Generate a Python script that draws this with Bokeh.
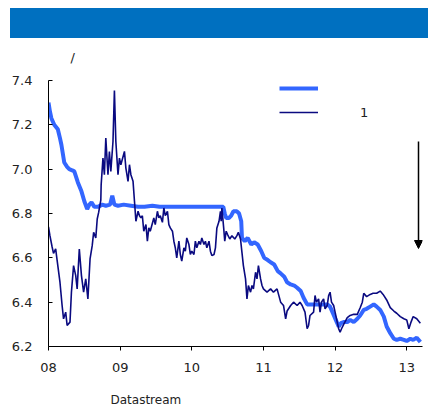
from bokeh.plotting import figure
from bokeh.models import (Range1d, FixedTicker, Arrow, NormalHead, Legend,
                          LegendItem, Title, Div)
from bokeh.layouts import column
from bokeh.embed import file_html
from bokeh.resources import INLINE

# ---- data ----
spot_t = [2008.00, 2008.02, 2008.04, 2008.08, 2008.13, 2008.16, 2008.18, 2008.22,
          2008.26, 2008.29, 2008.33, 2008.36, 2008.41, 2008.46, 2008.50, 2008.54,
          2008.57, 2008.60, 2008.64, 2008.69, 2008.75, 2008.80, 2008.86, 2008.89,
          2008.92, 2008.97, 2009.05, 2009.15, 2009.25, 2009.34, 2009.45, 2009.55,
          2009.70, 2009.85, 2010.00, 2010.15, 2010.30, 2010.44, 2010.46, 2010.48,
          2010.52, 2010.55, 2010.58, 2010.63, 2010.66, 2010.69, 2010.70, 2010.74,
          2010.78, 2010.83, 2010.87, 2010.92, 2010.97, 2011.01, 2011.06, 2011.10,
          2011.15, 2011.20, 2011.24, 2011.29, 2011.33, 2011.38, 2011.43, 2011.47,
          2011.52, 2011.56, 2011.61, 2011.70, 2011.79, 2011.89, 2011.93, 2011.97,
          2012.01, 2012.05, 2012.08, 2012.12, 2012.17, 2012.21, 2012.26, 2012.31,
          2012.35, 2012.40, 2012.44, 2012.49, 2012.54, 2012.58, 2012.63, 2012.68,
          2012.72, 2012.77, 2012.82, 2012.86, 2012.91, 2012.96, 2013.00, 2013.05,
          2013.09, 2013.14, 2013.19]
spot_v = [7.30, 7.26, 7.23, 7.20, 7.18, 7.14, 7.11, 7.03,
          7.01, 7.00, 6.995, 6.99, 6.94, 6.90, 6.855, 6.82,
          6.84, 6.85, 6.83, 6.83, 6.84, 6.835, 6.84, 6.88,
          6.84, 6.835, 6.84, 6.835, 6.83, 6.83, 6.835, 6.83,
          6.83, 6.83, 6.83, 6.83, 6.83, 6.83, 6.80, 6.78,
          6.78, 6.79, 6.81, 6.81, 6.80, 6.765, 6.69, 6.675,
          6.69, 6.66, 6.67, 6.66, 6.63, 6.60, 6.59, 6.58,
          6.57, 6.54, 6.53, 6.515, 6.49, 6.48, 6.475, 6.465,
          6.45, 6.42, 6.39, 6.39, 6.39, 6.39, 6.38, 6.35,
          6.32, 6.29, 6.305, 6.31, 6.31, 6.32, 6.31, 6.325,
          6.34, 6.365, 6.37, 6.38, 6.39, 6.38, 6.365, 6.335,
          6.29, 6.26, 6.235, 6.23, 6.235, 6.23, 6.225, 6.235,
          6.23, 6.24, 6.22]

ndf_t = [2008.00, 2008.02, 2008.05, 2008.07, 2008.10, 2008.12, 2008.16, 2008.19,
         2008.21, 2008.24, 2008.26, 2008.30, 2008.32, 2008.35, 2008.38, 2008.40,
         2008.43, 2008.46, 2008.49, 2008.52, 2008.55, 2008.58, 2008.61, 2008.63,
         2008.66, 2008.68, 2008.70, 2008.73, 2008.735, 2008.76, 2008.78, 2008.80,
         2008.83, 2008.85, 2008.87, 2008.90, 2008.92, 2008.94, 2008.97, 2008.99,
         2009.01, 2009.06, 2009.08, 2009.11, 2009.13, 2009.15, 2009.18, 2009.20,
         2009.22, 2009.25, 2009.27, 2009.29, 2009.31, 2009.33, 2009.36, 2009.38,
         2009.40, 2009.42, 2009.47, 2009.49, 2009.52, 2009.54, 2009.56, 2009.59,
         2009.61, 2009.63, 2009.66, 2009.68, 2009.70, 2009.73, 2009.75, 2009.77,
         2009.79, 2009.82, 2009.84, 2009.86, 2009.89, 2009.91, 2009.93, 2009.96,
         2009.98, 2010.00, 2010.03, 2010.05, 2010.07, 2010.10, 2010.12, 2010.14,
         2010.17, 2010.19, 2010.21, 2010.24, 2010.26, 2010.28, 2010.31, 2010.33,
         2010.35, 2010.38, 2010.40, 2010.41, 2010.42, 2010.445, 2010.46, 2010.48,
         2010.50, 2010.53, 2010.56, 2010.60, 2010.63, 2010.65, 2010.68, 2010.70,
         2010.72, 2010.75, 2010.77, 2010.79, 2010.82, 2010.84, 2010.86, 2010.89,
         2010.91, 2010.93, 2010.96, 2010.98, 2011.00, 2011.05, 2011.10, 2011.14,
         2011.19, 2011.24, 2011.28, 2011.31, 2011.33, 2011.38, 2011.42, 2011.47,
         2011.51, 2011.54, 2011.58, 2011.61, 2011.63, 2011.65, 2011.70, 2011.72,
         2011.74, 2011.77, 2011.79, 2011.81, 2011.84, 2011.86, 2011.89, 2011.91,
         2011.93, 2011.95, 2011.98, 2012.00, 2012.03, 2012.05, 2012.07, 2012.09,
         2012.12, 2012.17, 2012.21, 2012.26, 2012.31, 2012.35, 2012.38, 2012.40,
         2012.44, 2012.49, 2012.53, 2012.58, 2012.63, 2012.67, 2012.72, 2012.77,
         2012.82, 2012.86, 2012.91, 2012.96, 2013.00, 2013.03, 2013.06, 2013.09,
         2013.14, 2013.19]
ndf_v = [6.74, 6.70, 6.65, 6.62, 6.64, 6.59, 6.49, 6.385,
         6.325, 6.355, 6.295, 6.31, 6.445, 6.565, 6.52, 6.46,
         6.64, 6.52, 6.445, 6.505, 6.415, 6.595, 6.655, 6.715,
         6.69, 6.775, 6.805, 6.86, 6.93, 7.05, 6.975, 7.14,
         6.975, 7.08, 6.99, 7.125, 7.355, 7.125, 6.975, 7.05,
         7.02, 7.08, 7.005, 6.945, 7.02, 6.975, 6.945, 6.855,
         6.765, 6.81, 6.79, 6.78, 6.79, 6.72, 6.75, 6.675,
         6.735, 6.72, 6.78, 6.75, 6.81, 6.78, 6.79, 6.76,
         6.825, 6.79, 6.81, 6.75, 6.735, 6.72, 6.675, 6.645,
         6.60, 6.675, 6.615, 6.585, 6.645, 6.63, 6.69, 6.66,
         6.615, 6.63, 6.615, 6.675, 6.645, 6.675, 6.66, 6.69,
         6.66, 6.675, 6.645, 6.675, 6.63, 6.61, 6.615, 6.645,
         6.735, 6.765, 6.81, 6.765, 6.825, 6.735, 6.675, 6.72,
         6.705, 6.685, 6.70, 6.685, 6.70, 6.715, 6.685, 6.625,
         6.565, 6.505, 6.415, 6.475, 6.445, 6.475, 6.46, 6.535,
         6.505, 6.565, 6.505, 6.475, 6.46, 6.445, 6.46, 6.445,
         6.46, 6.40, 6.385, 6.325, 6.36, 6.385, 6.40, 6.385,
         6.40, 6.385, 6.355, 6.28, 6.295, 6.34, 6.355, 6.43,
         6.40, 6.415, 6.355, 6.40, 6.415, 6.37, 6.385, 6.43,
         6.445, 6.40, 6.385, 6.355, 6.31, 6.28, 6.265, 6.28,
         6.30, 6.33, 6.34, 6.345, 6.345, 6.375, 6.40, 6.44,
         6.425, 6.435, 6.44, 6.44, 6.45, 6.435, 6.41, 6.375,
         6.36, 6.35, 6.335, 6.325, 6.32, 6.28, 6.31, 6.335,
         6.325, 6.305]

x_ticks = [2008, 2009, 2010, 2011, 2012, 2013]
x_labels = ["08", "09", "10", "11", "12", "13"]
y_ticks = [6.2, 6.4, 6.6, 6.8, 7.0, 7.2, 7.4]
y_labels = ["6.2", "6.4", "6.6", "6.8", "7.0", "7.2", "7.4"]

FONT = "DejaVu Sans"

# blue header band; the figure below is pulled up to overlap it
header = Div(text="", width=418, height=30, margin=(8, 0, -38, 10),
             styles={"background-color": "#0070C0"})

p = figure(width=438, height=407, output_backend="svg", toolbar_location=None,
           x_range=Range1d(2008, 2013.22), y_range=Range1d(6.2, 7.4),
           min_border_left=48, min_border_right=16, min_border_top=80,
           min_border_bottom=59)
p.border_fill_color = None
p.background_fill_color = "white"
p.title = Title(text="/", align="left", offset=22, standoff=31,
                text_font=FONT, text_font_size="13px",
                text_font_style="normal", text_color="#222222")
p.outline_line_color = None
p.xgrid.visible = False
p.ygrid.visible = False

r_spot = p.line(spot_t, spot_v, line_color="#3366FF", line_width=4)
r_ndf = p.line(ndf_t, ndf_v, line_color="#0A0A80", line_width=1.6)

# axes
p.xaxis.ticker = FixedTicker(ticks=x_ticks)
p.xaxis.major_label_overrides = {t: l for t, l in zip(x_ticks, x_labels)}
p.xaxis.major_tick_in = 0
p.xaxis.major_tick_out = 4
p.xaxis.minor_tick_line_color = None
p.xaxis.major_label_standoff = 12

p.yaxis.ticker = FixedTicker(ticks=y_ticks)
p.yaxis.major_label_overrides = {t: l for t, l in zip(y_ticks, y_labels)}
p.yaxis.major_tick_in = 4
p.yaxis.major_tick_out = 0
p.yaxis.minor_tick_line_color = None
p.yaxis.major_label_standoff = 16

for ax in (p.xaxis, p.yaxis):
    ax.axis_line_color = "black"
    ax.major_tick_line_color = "black"
    ax.major_label_text_font = FONT
    ax.major_label_text_font_size = "13px"
    ax.major_label_text_color = "#222222"

# spacer + source line below the x axis
p.add_layout(Title(text=" ", align="left", offset=0, standoff=0,
                   text_font=FONT, text_font_size="11px"), "below")
p.add_layout(Title(text="Datastream", align="left", offset=62, standoff=2,
                   text_font=FONT, text_font_size="12px",
                   text_font_style="normal", text_color="#222222"), "below")

# arrow
p.add_layout(Arrow(end=NormalHead(size=8, fill_color="black", line_color="black"),
                   x_start=370, y_start=205, x_end=370, y_end=98,
                   start_units="screen", end_units="screen",
                   line_color="black", line_width=1.5))

# legend
legend = Legend(items=[LegendItem(label=" ", renderers=[r_spot]),
                       LegendItem(label="1", renderers=[r_ndf])],
                location=(231, 224), glyph_width=39, glyph_height=20,
                label_height=20, spacing=4, padding=0, margin=0,
                label_standoff=42, border_line_color=None,
                background_fill_alpha=0, label_text_font=FONT,
                label_text_font_size="13px", label_text_color="#222222")
p.add_layout(legend)

layout = column(header, p, spacing=0)
open("out.html", "w").write(file_html(layout, INLINE))
